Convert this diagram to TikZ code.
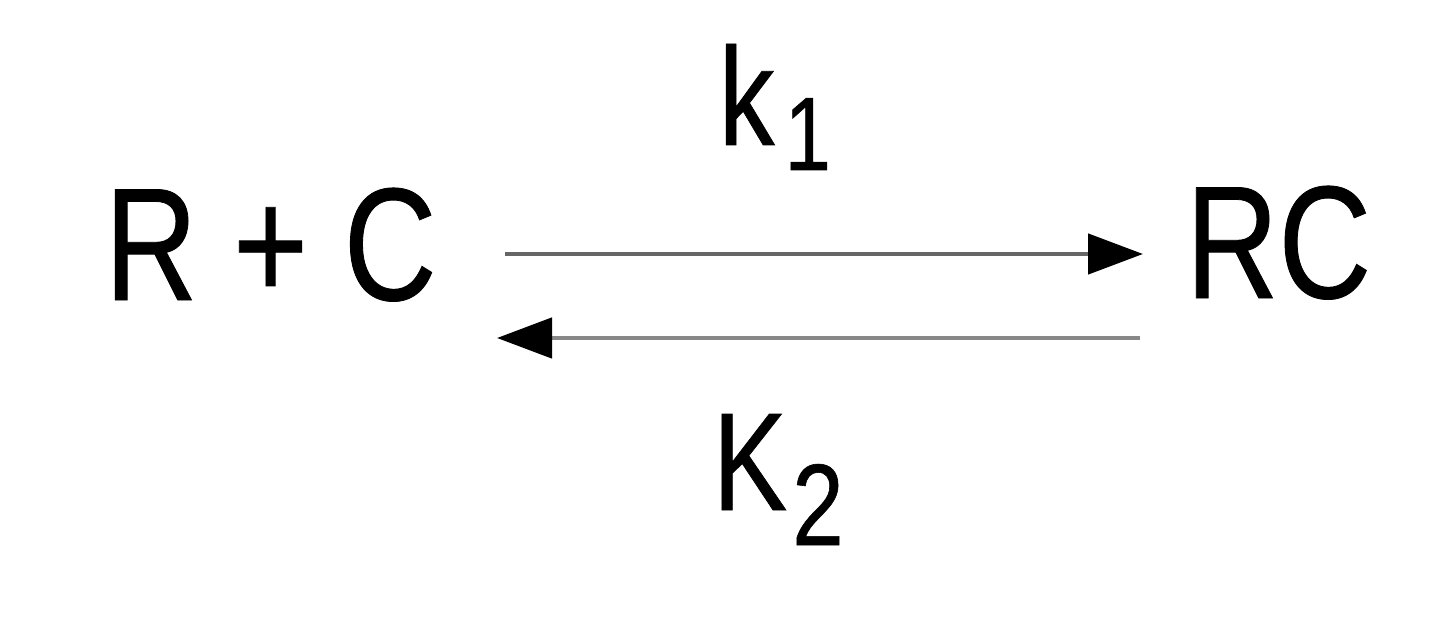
\documentclass[tikz,border=0pt]{standalone}
\usepackage{fontspec}
\setmainfont{Liberation Sans}
\newfontfamily\narrowsans[FakeStretch=0.8,FakeBold=0.5]{Liberation Sans}
\usetikzlibrary{arrows.meta}
\definecolor{topline}{HTML}{666666}
\definecolor{botline}{HTML}{888888}
\tikzset{
  species/.style={inner sep=0pt, anchor=base west, font=\narrowsans\fontsize{45.7}{50}\selectfont},
  rate/.style={inner sep=0pt, anchor=base west, font=\narrowsans\fontsize{39.7}{44}\selectfont},
  reaction/.style={line width=1.35pt, -{Triangle[length=0.55cm,width=0.40cm,color=black]}}
}
\begin{document}
\begin{tikzpicture}
\useasboundingbox (0,0) rectangle (14.4,6.26);
\node[species] (rc1) at (1.04,3.26) {R + C};
\node[species] (rc2) at (11.85,3.28) {RC};
\node[rate] (k1) at (7.18,4.81) {k\hspace{0.1cm}\raisebox{-0.25cm}{\fontsize{29.7}{32}\selectfont 1}};
\node[rate] (k2) at (7.12,1.16) {K\hspace{0.05cm}\raisebox{-0.35cm}{\fontsize{33}{36}\selectfont 2}};
\coordinate (a1) at (5.05,3.72);
\coordinate (b1) at (11.43,3.72);
\coordinate (a2) at (11.40,2.88);
\coordinate (b2) at (4.97,2.88);
\draw[reaction, draw=topline] (a1) -- (b1);
\draw[reaction, draw=botline] (a2) -- (b2);
\end{tikzpicture}
\end{document}
